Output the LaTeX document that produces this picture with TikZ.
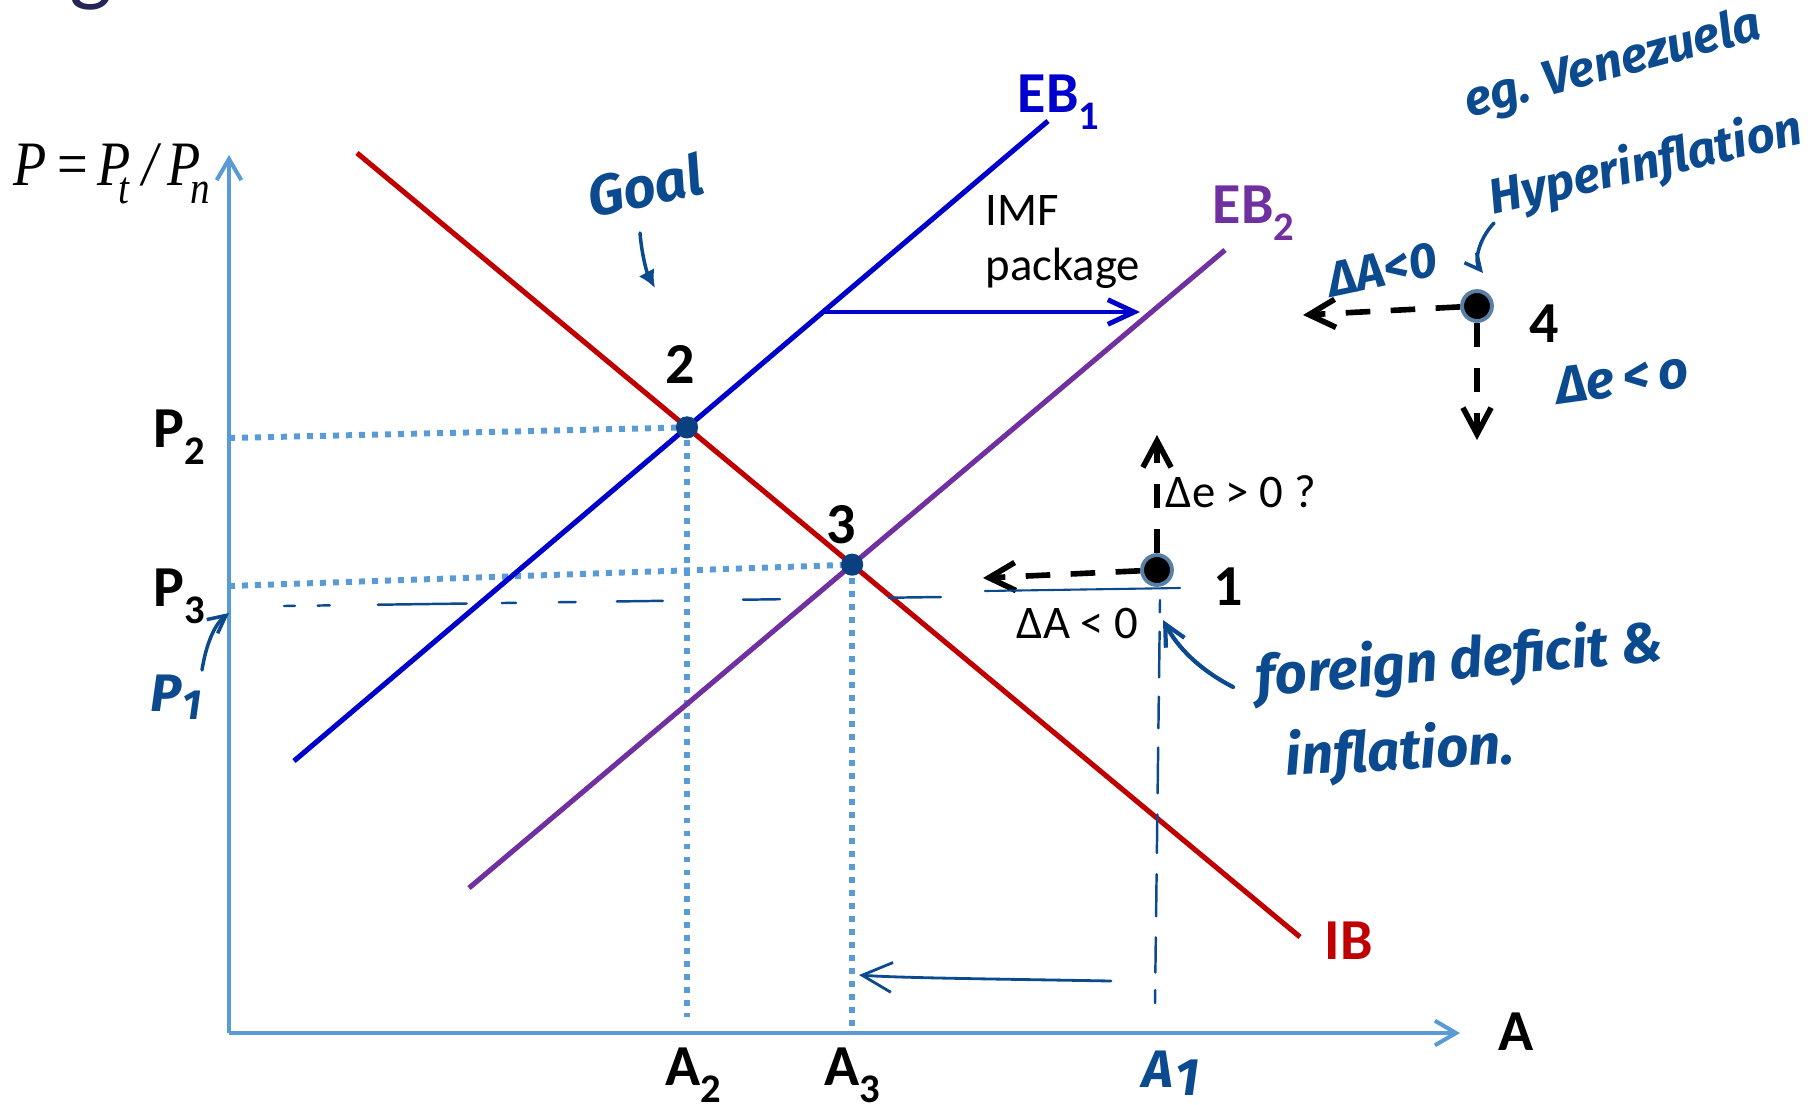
\documentclass[tikz,border=0pt]{standalone}
\usepackage{fontspec}
\usepackage{graphicx}
\setmainfont{Carlito}
\newfontfamily\handf{Fira Sans}
\newfontfamily\timesf{Liberation Serif}[FakeStretch=0.86]
\usetikzlibrary{arrows.meta,positioning}
\definecolor{axisblue}{HTML}{5B9BD5}
\definecolor{ibred}{HTML}{C00000}
\definecolor{ebblue}{HTML}{0000CC}
\definecolor{ebpurple}{HTML}{7030A0}
\definecolor{handblue}{HTML}{0B4A8E}
\definecolor{ptblue}{HTML}{0B4080}
\definecolor{ringblue}{HTML}{5A7FA5}
\definecolor{titlenavy}{HTML}{262656}
\newcommand{\lsub}[1]{\raisebox{-0.3em}{\scalebox{0.7}{#1}}}
\newcommand{\tsub}[1]{\raisebox{-0.3em}{\scalebox{0.72}{#1}}}
\tikzset{
  axisArrow/.style={axisblue,line width=1.15pt,-{Straight Barb[length=6pt,width=7pt]}},
  schedule/.style={line width=1.45pt},
  guideDot/.style={axisblue,line width=1.7pt,dash pattern=on 1.7pt off 2pt},
  eqpt/.style={circle,fill=ptblue,inner sep=0pt,minimum size=6.3pt},
  statept/.style={circle,fill=black,draw=ringblue,line width=1.1pt,inner sep=0pt,minimum size=8.5pt},
  boldlbl/.style={font=\fontsize{16.5}{18}\selectfont\bfseries,inner sep=0pt,anchor=base west},
  plainlbl/.style={font=\fontsize{13.3}{15.6}\selectfont,inner sep=0pt,anchor=base west},
  handNote/.style={handblue,font=\fontsize{15}{18}\selectfont\handf\itshape\bfseries,inner sep=0pt},
  handline/.style={handblue,line width=0.8pt,line cap=round},
  handArrow/.style={handline,-{Straight Barb[length=#1,width=#1]}},
  handArrow/.default=5pt,
  moveArrow/.style={line width=1.6pt,dash pattern=on 7pt off 5.8pt,-{Straight Barb[length=7.5pt,width=8pt]}}
}
\begin{document}
\begin{tikzpicture}[x=0.1mm,y=-0.1mm]
  \useasboundingbox (0,0) rectangle (1808,1104);
  \clip (0,0) rectangle (1808,1104);
  % remnant of the slide title
  \node[titlenavy,font=\fontsize{26}{26}\selectfont,anchor=base,inner sep=0pt] (ttl) at (91,-6) {g};
  % axes
  \coordinate (O) at (229,1033);
  \coordinate (ytop) at (229,155);
  \coordinate (xend) at (1460,1033);
  \draw[axisArrow] (O) -- (ytop);
  \draw[axisArrow] (O) -- (xend);
  \node[anchor=base west,inner sep=0pt,font=\fontsize{18}{20}\selectfont\timesf\itshape] (ratio) at (13,185)
    {\rlap{P}\hspace{12.6pt}\rlap{\upshape=}\hspace{11.2pt}\rlap{P}\hspace{6pt}\rlap{\tsub{t}}\hspace{6.8pt}\rlap{/}\hspace{7.1pt}\rlap{P}\hspace{6.5pt}\tsub{n}};
  \node[boldlbl] (alab) at (1498,1050) {A};
  % schedules
  \coordinate (ib-a) at (357,153);
  \coordinate (ib-b) at (1300,937);
  \coordinate (eb1-a) at (294,761);
  \coordinate (eb1-b) at (1048,121);
  \coordinate (eb2-a) at (469,888);
  \coordinate (eb2-b) at (1225,250);
  \path (intersection of ib-a--ib-b and eb1-a--eb1-b) coordinate (x2);
  \path (intersection of ib-a--ib-b and eb2-a--eb2-b) coordinate (x3);
  % dotted guides
  \coordinate (p2ax) at (229,438);
  \coordinate (p3ax) at (229,586);
  \coordinate (a2foot) at (x2 |- 0,1017);
  \draw[guideDot] (p2ax) -- (x2);
  \draw[guideDot] (x2) -- (a2foot);
  \draw[guideDot] (p3ax) -- (x3);
  \draw[guideDot] (x3) -- (x3 |- O);
  \draw[schedule,ibred] (ib-a) -- (ib-b);
  \draw[schedule,ebblue] (eb1-a) -- (eb1-b);
  \draw[schedule,ebpurple] (eb2-a) -- (eb2-b);
  \node[boldlbl,ibred] (iblab) at (1324,959) {IB};
  \node[boldlbl,ebblue] (eb1lab) at (1017,112) {EB\lsub{1}};
  \node[boldlbl,ebpurple] (eb2lab) at (1212,223) {EB\lsub{2}};
  \node[eqpt] (pt2) at (x2) {};
  \node[eqpt] (pt3) at (x3) {};
  \node[boldlbl] (n2) at (665,383) {2};
  \node[boldlbl] (n3) at (826,543) {3};
  \node[boldlbl] (p2lab) at (153,447) {P\lsub{2}};
  \node[boldlbl] (p3lab) at (153,606) {P\lsub{3}};
  \node[boldlbl] (a2lab) at (665,1085) {A\lsub{2}};
  \node[boldlbl] (a3lab) at (824,1085) {A\lsub{3}};
  % IMF shift
  \coordinate (imf-s) at (822,312);
  \coordinate (imf-e) at (1140,312);
  \draw[ebblue,line width=1.4pt,-{Straight Barb[length=7.5pt,width=7pt]}] (imf-s) -- (imf-e);
  \node[plainlbl,anchor=north west,align=left] (imftxt) at (985,195) {IMF\\package};
  % state 1
  \node[statept] (s1) at (1157,570) {};
  \node[boldlbl] (n1) at (1213,605) {1};
  \coordinate (s1left) at (983,578);
  \coordinate (s1up) at (1157,435);
  \draw[moveArrow] (s1) -- (s1left);
  \draw[moveArrow] (s1) -- (s1up);
  \node[plainlbl] (dAlab) at (1016,638) {ΔA < 0};
  \node[plainlbl] (delab) at (1165,507) {Δe > 0 ?};
  % state 4
  \node[statept] (s4) at (1477,306) {};
  \node[boldlbl] (n4) at (1529,342) {4};
  \coordinate (s4left) at (1303,315);
  \coordinate (s4down) at (1477,440);
  \draw[moveArrow] (s4) -- (s4left);
  \draw[moveArrow] (s4) -- (s4down);
  % hand annotations
  \coordinate (p1s) at (284,606);
  \coordinate (p1e) at (941,597);
  \draw[handline,line width=0.7pt,dash pattern=on 3.1pt off 6.5pt on 3.4pt off 13.7pt on 25.3pt off 10pt on 4pt off 12.2pt on 4.8pt off 11.7pt on 13.1pt off 22.8pt on 10.5pt off 31pt on 14.8pt] (p1s) -- (p1e);
  \coordinate (u1a) at (985,591);
  \coordinate (u1b) at (1180,588);
  \draw[handline,line width=0.6pt] (u1a) -- (u1b);
  \coordinate (a1top) at (1160,600);
  \coordinate (a1foot) at (1155,1003);
  \draw[handline,line width=0.7pt,dash pattern=on 3.5pt off 5.5pt on 13pt off 5.5pt on 9pt off 5.5pt on 13pt off 6pt on 11pt off 6pt on 12pt off 6pt on 10pt off 5pt on 23pt] (a1top) -- (a1foot);
  \coordinate (a1arr) at (1111,981);
  \coordinate (a3arr) at (859,975);
  \draw[handArrow=8.5pt] (a1arr) .. controls (1000,979) and (900,978) .. (a3arr);
  \node[handNote] (a1lab) at (1171,1073) {A\kern0.05em\raisebox{-0.15em}{1}};
  \node[handNote] (p1lab) at (176,697) {P\kern0.02em\raisebox{-0.15em}{\scalebox{0.8}{1}}};
  \coordinate (p1arr) at (202,670);
  \coordinate (p1tip) at (229,613);
  \draw[handArrow=5pt,line width=1pt] (p1arr) .. controls (206,645) and (214,625) .. (p1tip);
  \node[handNote,font=\fontsize{16}{18}\selectfont\handf\itshape\bfseries,rotate=12] (goal) at (645,185) {Goal};
  \coordinate (goalarr) at (640,233);
  \coordinate (goaltip) at (655,288);
  \draw[handline,line width=1pt,-{Latex[length=5pt,width=5pt]}] (goalarr) .. controls (642,258) and (648,275) .. (goaltip);
  \node[handNote,font=\fontsize{16}{19}\selectfont\handf\itshape\bfseries,rotate=5] (fdtxt) at (1460,662) {foreign deficit \&};
  \node[handNote,font=\fontsize{16}{19}\selectfont\handf\itshape\bfseries,rotate=3] (inftxt) at (1400,753) {inflation.};
  \coordinate (fdarr) at (1233,687);
  \coordinate (fdtip) at (1163,620);
  \draw[handArrow=6pt,line width=1.2pt] (fdarr) .. controls (1200,670) and (1178,648) .. (fdtip);
  \node[handNote,font=\fontsize{14}{17}\selectfont\handf\itshape\bfseries,rotate=15] (egtxt) at (1613,65) {eg. Venezuela};
  \node[handNote,font=\fontsize{14}{17}\selectfont\handf\itshape\bfseries,rotate=13] (hyptxt) at (1646,165) {Hyperinflation};
  \coordinate (hyparr) at (1494,223);
  \coordinate (hyptip) at (1483,273);
  \draw[handArrow=4.5pt,line width=1pt] (hyparr) .. controls (1478,240) and (1474,262) .. (hyptip);
  \node[handNote,font=\fontsize{14}{17}\selectfont\handf\itshape\bfseries,rotate=12] (dA4) at (1382,270) {ΔA<0};
  \node[handNote,font=\fontsize{15}{17}\selectfont\handf\itshape\bfseries,rotate=8] (de4) at (1622,378) {Δe\,<\,o};
\end{tikzpicture}
\end{document}
